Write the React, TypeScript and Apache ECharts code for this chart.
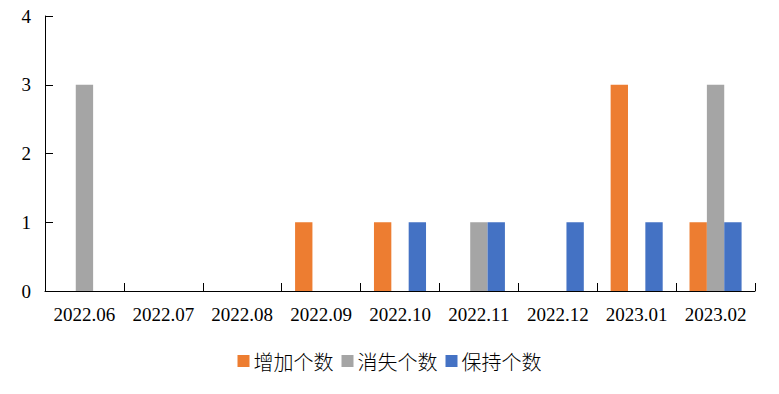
import React, { useEffect, useRef } from "react";
import * as echarts from "echarts";

const categories = ["2022.06", "2022.07", "2022.08", "2022.09", "2022.10", "2022.11", "2022.12", "2023.01", "2023.02"];
const seriesNames = ["增加个数", "消失个数", "保持个数"];
const addedValues = [0, 0, 0, 1, 1, 0, 0, 3, 1];
const lostValues = [3, 0, 0, 0, 0, 1, 0, 0, 3];
const keptValues = [0, 0, 0, 0, 1, 1, 1, 1, 1];
const colors = ["#ED7D31", "#A5A5A5", "#4472C4"];

export default function App() {
  const ref = useRef<HTMLDivElement>(null);
  useEffect(() => {
    if (!ref.current) return;
    const chart = echarts.init(ref.current, null, { renderer: "svg" });
    const serif = "Liberation Serif";
    chart.setOption({
      animation: false,
      textStyle: { fontFamily: serif },
      grid: { left: 45, right: 24, top: 16, bottom: 103, containLabel: false },
      legend: {
        bottom: 18,
        left: "center",
        itemWidth: 12,
        itemHeight: 12,
        itemGap: 8,
        icon: "rect",
        textStyle: { fontFamily: "Noto Sans CJK SC", fontSize: 20, fontWeight: 300, color: "#000", padding: [0, 0, 0, -1] },
        data: seriesNames,
      },
      xAxis: {
        type: "category",
        data: categories,
        axisLine: { lineStyle: { color: "#000", width: 1 } },
        axisTick: { show: true, inside: true, length: 8, alignWithLabel: false, lineStyle: { color: "#000" } },
        axisLabel: { color: "#000", fontFamily: serif, fontSize: 19, fontWeight: "normal", margin: 14, interval: 0 },
        splitLine: { show: false },
      },
      yAxis: {
        type: "value",
        min: 0,
        max: 4,
        interval: 1,
        axisLine: { show: true, lineStyle: { color: "#000", width: 1 } },
        axisTick: { show: true, inside: true, length: 8, lineStyle: { color: "#000" } },
        axisLabel: { color: "#000", fontFamily: serif, fontSize: 19, fontWeight: "normal", margin: 14 },
        splitLine: { show: false },
      },
      series: [
        { name: seriesNames[0], type: "bar", data: addedValues, itemStyle: { color: colors[0] }, barGap: "0%", barCategoryGap: "34%" },
        { name: seriesNames[1], type: "bar", data: lostValues, itemStyle: { color: colors[1] }, barGap: "0%", barCategoryGap: "34%" },
        { name: seriesNames[2], type: "bar", data: keptValues, itemStyle: { color: colors[2] }, barGap: "0%", barCategoryGap: "34%" },
      ],
    });
    return () => chart.dispose();
  }, []);
  return <div ref={ref} style={{ width: 779, height: 394, position: "absolute", left: 0, top: 0, fontFamily: "Liberation Serif" }} />;
}
